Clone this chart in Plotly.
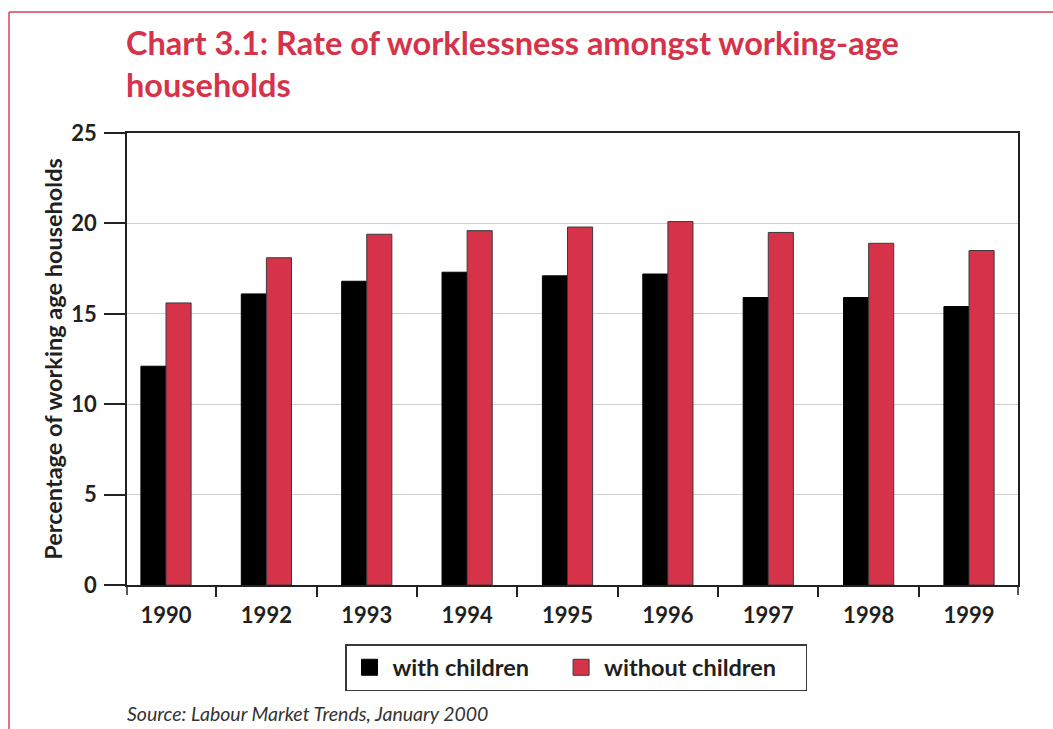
import plotly.graph_objects as go

years = ["1990", "1992", "1993", "1994", "1995", "1996", "1997", "1998", "1999"]
with_children = [12.1, 16.1, 16.8, 17.3, 17.1, 17.2, 15.9, 15.9, 15.4]
without_children = [15.6, 18.1, 19.4, 19.6, 19.8, 20.1, 19.5, 18.9, 18.5]
y_ticks = [0, 5, 10, 15, 20, 25]

RED = "#D6334A"
BLACK = "#000000"
FRAME = "#E27181"
TXT = "#231F20"
FONT = "Lato"

W, H = 1053, 729
L, R, T, B = 127, 1018, 133, 585  # plot area pixel bounds


def px_x(x):
    return (x - L) / (R - L)


def px_y(y):
    return (B - y) / (B - T)


fig = go.Figure()
fig.add_trace(go.Bar(x=years, y=with_children, name="with children",
                     marker=dict(color=BLACK, line=dict(color=BLACK, width=1)),
                     showlegend=False))
fig.add_trace(go.Bar(x=years, y=without_children, name="without children",
                     marker=dict(color=RED, line=dict(color="#3a3a3a", width=1)),
                     showlegend=False))
# legend entries
fig.add_trace(go.Scatter(x=[None], y=[None], mode="markers",
                         name="<b>with children</b>&nbsp;&nbsp;&nbsp;&nbsp;",
                         marker=dict(symbol="square", size=22, color=BLACK,
                                     line=dict(color=BLACK, width=1))))
fig.add_trace(go.Scatter(x=[None], y=[None], mode="markers",
                         name="<b>without children</b>&nbsp;&nbsp;&nbsp;&nbsp;",
                         marker=dict(symbol="square", size=22, color=RED,
                                     line=dict(color="#3a3a3a", width=1))))

fig.update_layout(
    width=W, height=H,
    margin=dict(l=L, r=W - R, t=T, b=H - B, autoexpand=False),
    paper_bgcolor="white", plot_bgcolor="white",
    barmode="group", bargap=0.5, bargroupgap=0,
    font=dict(family=FONT, color=TXT),
    showlegend=True,
    legend=dict(orientation="h", x=px_x(345), y=px_y(644), xanchor="left", yanchor="top",
                bordercolor="#3a3a3a", borderwidth=1.5, bgcolor="white",
                font=dict(family=FONT, size=23.5, color=TXT),
                itemsizing="trace", itemwidth=36),
    xaxis=dict(type="category", range=[-0.3886, 8.488], tickson="boundaries",
               tickvals=years, ticktext=["<b>%s</b>" % y for y in years],
               ticks="outside", ticklen=10, tickcolor="#222", tickwidth=1.5,
               showline=True, linecolor="#222", linewidth=1.5, mirror=True,
               showgrid=False, ticklabelstandoff=10,
               tickfont=dict(family=FONT, size=22, color=TXT)),
    yaxis=dict(range=[0, 25], tickvals=y_ticks, ticktext=["<b>%d</b>" % v for v in y_ticks],
               ticks="outside", ticklen=21,
               tickcolor="#222", tickwidth=1.5,
               showline=True, linecolor="#222", linewidth=1.5, mirror=True,
               showgrid=True, gridcolor="#CFCFCF", gridwidth=1, zeroline=False,
               ticklabelstandoff=3,
               tickfont=dict(family=FONT, size=22, color=TXT)),
)
fig.update_yaxes(title=dict(text="<b>Percentage of working age households</b>",
                            font=dict(family=FONT, size=23.5, color=TXT), standoff=2))

# title
fig.add_annotation(text="<b>Chart 3.1: Rate of worklessness amongst working-age<br>households</b>",
                   xref="paper", yref="paper", x=px_x(124), y=px_y(21),
                   xanchor="left", yanchor="top", align="left", showarrow=False,
                   font=dict(family=FONT, size=32.5, color=RED))

# outer pink frame
fig.add_shape(type="line", xref="paper", yref="paper",
              x0=px_x(9), x1=px_x(W + 5), y0=px_y(12), y1=px_y(12),
              line=dict(color=FRAME, width=2))
fig.add_shape(type="line", xref="paper", yref="paper",
              x0=px_x(9), x1=px_x(9), y0=px_y(12), y1=px_y(H + 5),
              line=dict(color=FRAME, width=2))
# end ticks on x axis
for xp in (0, 1):
    fig.add_shape(type="line", xref="paper", yref="paper",
                  x0=xp, x1=xp, y0=0, y1=px_y(B + 10),
                  line=dict(color="#222", width=1.5))

fig.add_annotation(text="<i>Source: Labour Market Trends, January 2000</i>",
                   xref="paper", yref="paper", x=px_x(125), y=px_y(713),
                   xanchor="left", yanchor="middle", showarrow=False,
                   font=dict(family=FONT, size=19.5, color="#333"))

fig.write_html("out.html")
